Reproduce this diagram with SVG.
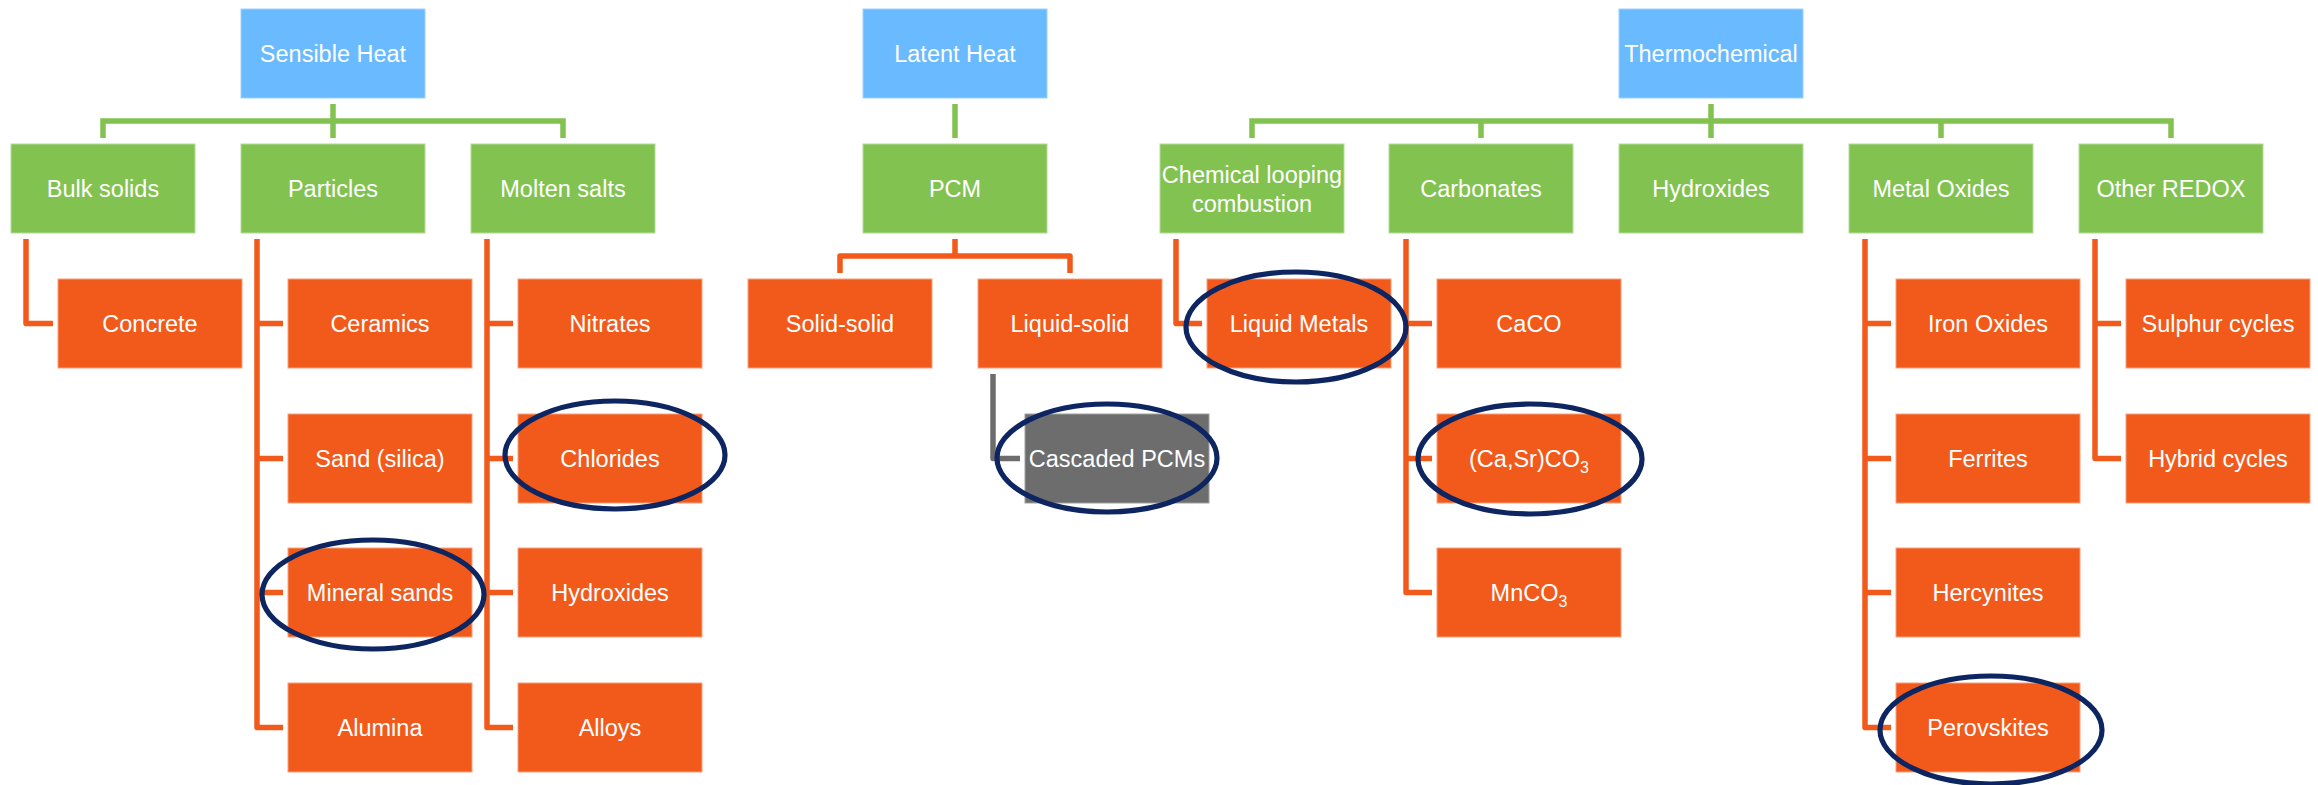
<svg xmlns="http://www.w3.org/2000/svg" width="2318" height="785" viewBox="0 0 2318 785">
<style>
text{font-family:"Liberation Sans",Arial,sans-serif;font-size:23.5px;fill:#fff;text-anchor:middle}
.top{fill:#69BAFF;stroke:#9fd2ff;stroke-width:1}
.mid{fill:#82C250;stroke:#b5dc98;stroke-width:1}
.leaf{fill:#F15A1B;stroke:#f7a07c;stroke-width:1}
.grey{fill:#6D6D6E;stroke:#a0a0a0;stroke-width:1}
.cg{fill:none;stroke:#82C250;stroke-width:5.5}
.co{fill:none;stroke:#F15A1B;stroke-width:5.5;stroke-linejoin:round}
.cy{fill:none;stroke:#6D6D6E;stroke-width:5.5;stroke-linejoin:round}
.hl{fill:none;stroke:#0D2561;stroke-width:5.2}
</style>
<g id="connectors">
<path class="cg" d="M333,104V138M103,138V121H563V138"/>
<path class="cg" d="M955,104V138"/>
<path class="cg" d="M1711,104V138M1252,138V121H2171V138M1481,121V138M1941,121V138"/>
<path class="co" d="M26,239V323.5H53"/>
<path class="co" d="M257,239V727.5H283M257,323.5H283M257,458.5H283M257,592.5H283"/>
<path class="co" d="M487,239V727.5H513M487,323.5H513M487,458.5H513M487,592.5H513"/>
<path class="co" d="M955,239V256M840,273V256H1070V273"/>
<path class="cy" d="M993,374V458.5H1020"/>
<path class="co" d="M1176,239V323.5H1202"/>
<path class="co" d="M1406,239V592.5H1432M1406,323.5H1432M1406,458.5H1432"/>
<path class="co" d="M1865,239V727.5H1891M1865,323.5H1891M1865,458.5H1891M1865,592.5H1891"/>
<path class="co" d="M2095,239V458.5H2121M2095,323.5H2121"/>
</g>
<g id="sensible-heat"><rect class="top" x="241" y="9" width="184" height="89"/><text x="333" y="61.5">Sensible Heat</text></g>
<g id="latent-heat"><rect class="top" x="863" y="9" width="184" height="89"/><text x="955" y="61.5">Latent Heat</text></g>
<g id="thermochemical"><rect class="top" x="1619" y="9" width="184" height="89"/><text x="1711" y="61.5">Thermochemical</text></g>

<g id="bulk-solids"><rect class="mid" x="11" y="144" width="184" height="89"/><text x="103" y="196.5">Bulk solids</text></g>
<g id="particles"><rect class="mid" x="241" y="144" width="184" height="89"/><text x="333" y="196.5">Particles</text></g>
<g id="molten-salts"><rect class="mid" x="471" y="144" width="184" height="89"/><text x="563" y="196.5">Molten salts</text></g>
<g id="pcm"><rect class="mid" x="863" y="144" width="184" height="89"/><text x="955" y="196.5">PCM</text></g>
<g id="chemical-looping"><rect class="mid" x="1160" y="144" width="184" height="89"/><text x="1252" y="183">Chemical looping</text><text x="1252" y="212">combustion</text></g>
<g id="carbonates"><rect class="mid" x="1389" y="144" width="184" height="89"/><text x="1481" y="196.5">Carbonates</text></g>
<g id="hydroxides-tc"><rect class="mid" x="1619" y="144" width="184" height="89"/><text x="1711" y="196.5">Hydroxides</text></g>
<g id="metal-oxides"><rect class="mid" x="1849" y="144" width="184" height="89"/><text x="1941" y="196.5">Metal Oxides</text></g>
<g id="other-redox"><rect class="mid" x="2079" y="144" width="184" height="89"/><text x="2171" y="196.5">Other REDOX</text></g>

<g id="concrete"><rect class="leaf" x="58" y="279" width="184" height="89"/><text x="150" y="331.5">Concrete</text></g>
<g id="ceramics"><rect class="leaf" x="288" y="279" width="184" height="89"/><text x="380" y="331.5">Ceramics</text></g>
<g id="sand"><rect class="leaf" x="288" y="414" width="184" height="89"/><text x="380" y="466.5">Sand (silica)</text></g>
<g id="mineral-sands"><rect class="leaf" x="288" y="548" width="184" height="89"/><text x="380" y="600.5">Mineral sands</text></g>
<g id="alumina"><rect class="leaf" x="288" y="683" width="184" height="89"/><text x="380" y="735.5">Alumina</text></g>
<g id="nitrates"><rect class="leaf" x="518" y="279" width="184" height="89"/><text x="610" y="331.5">Nitrates</text></g>
<g id="chlorides"><rect class="leaf" x="518" y="414" width="184" height="89"/><text x="610" y="466.5">Chlorides</text></g>
<g id="hydroxides-ms"><rect class="leaf" x="518" y="548" width="184" height="89"/><text x="610" y="600.5">Hydroxides</text></g>
<g id="alloys"><rect class="leaf" x="518" y="683" width="184" height="89"/><text x="610" y="735.5">Alloys</text></g>
<g id="solid-solid"><rect class="leaf" x="748" y="279" width="184" height="89"/><text x="840" y="331.5">Solid-solid</text></g>
<g id="liquid-solid"><rect class="leaf" x="978" y="279" width="184" height="89"/><text x="1070" y="331.5">Liquid-solid</text></g>
<g id="cascaded-pcms"><rect class="grey" x="1025" y="414" width="184" height="89"/><text x="1117" y="466.5">Cascaded PCMs</text></g>
<g id="liquid-metals"><rect class="leaf" x="1207" y="279" width="184" height="89"/><text x="1299" y="331.5">Liquid Metals</text></g>
<g id="caco"><rect class="leaf" x="1437" y="279" width="184" height="89"/><text x="1529" y="331.5">CaCO</text></g>
<g id="casrco3"><rect class="leaf" x="1437" y="414" width="184" height="89"/><text x="1529" y="466.5">(Ca,Sr)CO<tspan font-size="16" dy="6">3</tspan></text></g>
<g id="mnco3"><rect class="leaf" x="1437" y="548" width="184" height="89"/><text x="1529" y="600.5">MnCO<tspan font-size="16" dy="6">3</tspan></text></g>
<g id="iron-oxides"><rect class="leaf" x="1896" y="279" width="184" height="89"/><text x="1988" y="331.5">Iron Oxides</text></g>
<g id="ferrites"><rect class="leaf" x="1896" y="414" width="184" height="89"/><text x="1988" y="466.5">Ferrites</text></g>
<g id="hercynites"><rect class="leaf" x="1896" y="548" width="184" height="89"/><text x="1988" y="600.5">Hercynites</text></g>
<g id="perovskites"><rect class="leaf" x="1896" y="683" width="184" height="89"/><text x="1988" y="735.5">Perovskites</text></g>
<g id="sulphur-cycles"><rect class="leaf" x="2126" y="279" width="184" height="89"/><text x="2218" y="331.5">Sulphur cycles</text></g>
<g id="hybrid-cycles"><rect class="leaf" x="2126" y="414" width="184" height="89"/><text x="2218" y="466.5">Hybrid cycles</text></g>

<g id="highlights">
<ellipse class="hl" cx="615" cy="455" rx="110" ry="54"/>
<ellipse class="hl" cx="373" cy="594.5" rx="111" ry="54.5"/>
<ellipse class="hl" cx="1107" cy="458" rx="110" ry="54"/>
<ellipse class="hl" cx="1296" cy="327" rx="110" ry="55"/>
<ellipse class="hl" cx="1530" cy="459" rx="112" ry="55"/>
<ellipse class="hl" cx="1991" cy="730" rx="111" ry="54"/>
</g>
</svg>
